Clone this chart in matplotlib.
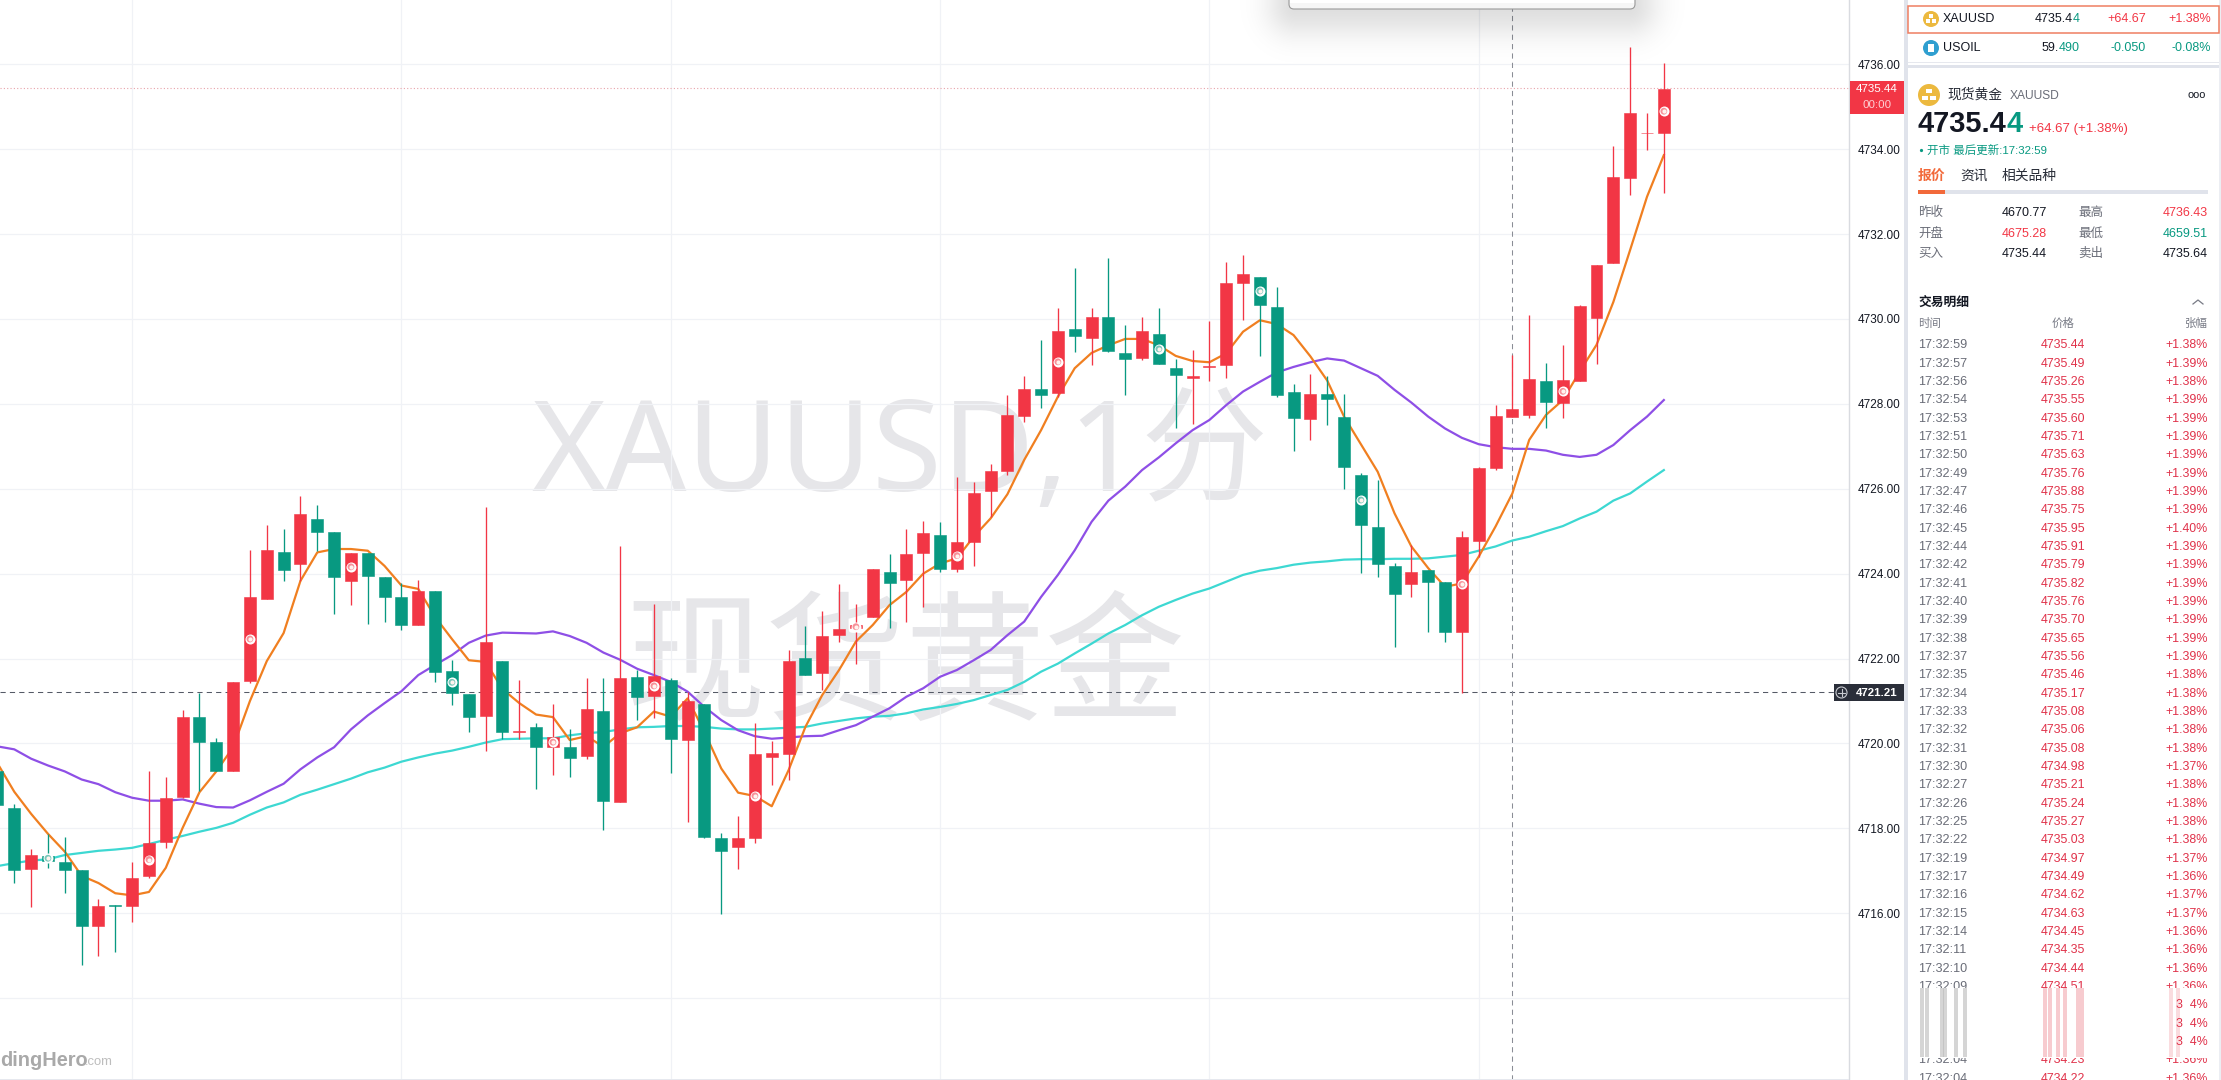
import numpy as np
import matplotlib
matplotlib.use('Agg')
import matplotlib.pyplot as plt
from matplotlib.patches import Rectangle, Circle, FancyBboxPatch

plt.rcParams['font.family'] = ['Liberation Sans', 'Noto Sans CJK SC', 'DejaVu Sans']

# candles, one minute each
opens = [4719.34, 4718.49, 4717.04, 4717.35, 4717.21, 4717.02, 4715.70, 4716.19, 4716.17, 4716.88,
         4717.68, 4718.74, 4720.63, 4720.03, 4719.34, 4721.47, 4723.41, 4724.52, 4724.23, 4725.28,
         4724.97, 4723.83, 4724.49, 4723.93, 4723.45, 4722.79, 4723.58, 4721.70, 4721.16, 4720.64,
         4721.94, 4720.27, 4720.38, 4719.92, 4719.91, 4719.70, 4720.76, 4718.63, 4721.56, 4721.12,
         4721.49, 4720.08, 4720.93, 4717.77, 4717.57, 4717.78, 4719.69, 4719.75, 4722.01, 4721.67,
         4722.56, 4722.71, 4722.97, 4724.04, 4723.85, 4724.49, 4724.91, 4724.11, 4724.74, 4725.95,
         4726.42, 4727.72, 4728.36, 4728.26, 4729.76, 4729.56, 4730.05, 4729.20, 4729.09, 4729.64,
         4728.84, 4728.61, 4728.87, 4728.91, 4730.85, 4730.99, 4730.28, 4728.27, 4727.64, 4728.23,
         4727.69, 4726.32, 4725.09, 4724.18, 4723.76, 4724.09, 4723.80, 4722.63, 4724.78, 4726.49,
         4727.70, 4727.74, 4728.54, 4728.03, 4728.55, 4730.03, 4731.33, 4733.33, 4734.37, 4734.37]
highs = [4719.60, 4718.58, 4717.51, 4717.87, 4717.80, 4717.02, 4716.33, 4716.19, 4717.21, 4719.36,
         4719.20, 4720.78, 4721.18, 4720.12, 4721.45, 4724.56, 4725.14, 4725.04, 4725.84, 4725.61,
         4724.97, 4724.49, 4724.49, 4723.93, 4723.79, 4723.85, 4723.58, 4721.97, 4721.16, 4725.57,
         4721.94, 4721.49, 4720.47, 4720.93, 4720.33, 4721.54, 4721.54, 4724.64, 4721.72, 4723.28,
         4721.55, 4721.22, 4720.93, 4717.88, 4718.29, 4720.47, 4720.06, 4722.20, 4722.77, 4723.13,
         4723.75, 4723.28, 4724.11, 4724.46, 4725.04, 4725.24, 4725.22, 4726.27, 4726.15, 4726.58,
         4728.21, 4728.65, 4729.50, 4730.25, 4731.21, 4730.27, 4731.44, 4729.86, 4730.05, 4730.25,
         4729.05, 4729.27, 4729.95, 4731.35, 4731.51, 4730.99, 4730.76, 4728.47, 4728.70, 4728.65,
         4728.23, 4726.36, 4726.21, 4724.26, 4724.67, 4724.09, 4723.80, 4725.00, 4726.51, 4727.97,
         4729.15, 4730.09, 4728.97, 4729.39, 4730.34, 4731.27, 4734.08, 4736.41, 4734.85, 4736.04]
lows = [4718.55, 4716.71, 4716.14, 4717.07, 4716.47, 4714.77, 4714.98, 4715.08, 4715.79, 4716.83,
        4717.54, 4718.72, 4718.88, 4719.34, 4719.34, 4721.42, 4723.41, 4723.82, 4723.82, 4724.54,
        4723.05, 4723.25, 4722.82, 4722.86, 4722.67, 4722.79, 4721.44, 4720.90, 4720.26, 4719.81,
        4720.11, 4720.10, 4718.93, 4719.26, 4719.20, 4719.64, 4717.95, 4718.63, 4720.55, 4720.59,
        4719.31, 4718.15, 4717.78, 4715.98, 4717.04, 4717.66, 4719.02, 4719.14, 4721.61, 4721.26,
        4722.39, 4721.87, 4722.97, 4722.71, 4722.87, 4723.22, 4724.04, 4724.04, 4724.18, 4725.34,
        4726.32, 4727.58, 4727.91, 4728.17, 4729.23, 4728.91, 4729.22, 4728.21, 4729.03, 4728.95,
        4727.44, 4727.52, 4728.53, 4728.62, 4729.97, 4729.13, 4728.15, 4726.90, 4727.15, 4727.51,
        4725.99, 4724.01, 4723.91, 4722.28, 4723.44, 4722.63, 4722.40, 4721.18, 4724.40, 4726.44,
        4727.70, 4727.67, 4727.42, 4727.66, 4728.55, 4728.94, 4731.31, 4732.91, 4733.98, 4732.97]
closes = [4718.55, 4717.02, 4717.37, 4717.24, 4717.02, 4715.70, 4716.17, 4716.17, 4716.83, 4717.65,
          4718.72, 4720.63, 4720.04, 4719.34, 4721.45, 4723.45, 4724.55, 4724.09, 4725.40, 4724.98,
          4723.93, 4724.49, 4723.95, 4723.46, 4722.79, 4723.58, 4721.68, 4721.18, 4720.62, 4722.40,
          4720.28, 4720.29, 4719.92, 4720.14, 4719.65, 4720.80, 4718.65, 4721.54, 4721.10, 4721.59,
          4720.11, 4721.00, 4717.79, 4717.46, 4717.78, 4719.75, 4719.78, 4721.94, 4721.61, 4722.53,
          4722.69, 4722.79, 4724.11, 4723.78, 4724.47, 4724.95, 4724.11, 4724.74, 4725.90, 4726.42,
          4727.74, 4728.35, 4728.22, 4729.72, 4729.60, 4730.05, 4729.25, 4729.05, 4729.71, 4728.95,
          4728.69, 4728.65, 4728.90, 4730.85, 4731.06, 4730.33, 4728.21, 4727.66, 4728.23, 4728.11,
          4726.52, 4725.15, 4724.23, 4723.52, 4724.04, 4723.80, 4722.63, 4724.86, 4726.49, 4727.71,
          4727.88, 4728.59, 4728.04, 4728.56, 4730.30, 4731.27, 4733.34, 4734.85, 4734.38, 4735.42]

ma_fast = [4719.53, 4718.86, 4718.34, 4717.87, 4717.45, 4716.88, 4716.71, 4716.47, 4716.42, 4716.50,
           4717.07, 4718.01, 4718.85, 4719.34, 4719.91, 4721.00, 4721.94, 4722.60, 4723.83, 4724.50,
           4724.58, 4724.58, 4724.54, 4724.18, 4723.72, 4723.64, 4722.98, 4722.46, 4721.96, 4721.92,
           4721.28, 4720.95, 4720.68, 4720.62, 4720.08, 4720.17, 4719.92, 4720.24, 4720.38, 4720.75,
           4720.63, 4721.06, 4720.27, 4719.41, 4718.84, 4718.76, 4718.52, 4719.37, 4720.39, 4721.14,
           4721.73, 4722.40, 4722.79, 4723.26, 4723.57, 4724.00, 4724.24, 4724.36, 4724.87, 4725.30,
           4725.87, 4726.68, 4727.38, 4728.17, 4728.84, 4729.20, 4729.38, 4729.53, 4729.53, 4729.38,
           4729.13, 4729.01, 4728.98, 4729.19, 4729.70, 4729.97, 4729.88, 4729.62, 4729.12, 4728.55,
           4727.70, 4727.05, 4726.40, 4725.42, 4724.64, 4724.13, 4723.69, 4723.77, 4724.40, 4725.11,
           4725.89, 4727.15, 4727.74, 4728.09, 4728.76, 4729.39, 4730.40, 4731.63, 4732.88, 4733.86]
ma_mid = [4719.93, 4719.86, 4719.64, 4719.48, 4719.34, 4719.15, 4719.04, 4718.85, 4718.72, 4718.65,
          4718.65, 4718.68, 4718.58, 4718.50, 4718.49, 4718.66, 4718.86, 4719.05, 4719.39, 4719.67,
          4719.91, 4720.33, 4720.66, 4720.95, 4721.23, 4721.61, 4721.85, 4722.08, 4722.37, 4722.54,
          4722.61, 4722.60, 4722.59, 4722.64, 4722.53, 4722.37, 4722.14, 4721.97, 4721.76, 4721.61,
          4721.45, 4721.22, 4720.86, 4720.55, 4720.31, 4720.17, 4720.11, 4720.14, 4720.17, 4720.18,
          4720.31, 4720.43, 4720.63, 4720.83, 4721.10, 4721.30, 4721.57, 4721.73, 4721.96, 4722.20,
          4722.55, 4722.87, 4723.45, 4723.97, 4724.55, 4725.22, 4725.72, 4726.05, 4726.44, 4726.74,
          4727.07, 4727.38, 4727.62, 4727.97, 4728.29, 4728.52, 4728.74, 4728.87, 4728.98, 4729.07,
          4729.02, 4728.84, 4728.66, 4728.33, 4728.03, 4727.70, 4727.42, 4727.20, 4727.05, 4726.98,
          4726.94, 4726.94, 4726.90, 4726.80, 4726.75, 4726.80, 4727.03, 4727.38, 4727.70, 4728.09]
ma_slow = [4717.11, 4717.18, 4717.24, 4717.27, 4717.37, 4717.42, 4717.47, 4717.50, 4717.54, 4717.63,
           4717.73, 4717.82, 4717.92, 4718.01, 4718.13, 4718.32, 4718.49, 4718.61, 4718.79, 4718.91,
           4719.04, 4719.17, 4719.32, 4719.43, 4719.57, 4719.67, 4719.76, 4719.83, 4719.92, 4720.02,
           4720.10, 4720.11, 4720.12, 4720.12, 4720.19, 4720.24, 4720.27, 4720.33, 4720.38, 4720.39,
           4720.41, 4720.41, 4720.39, 4720.35, 4720.33, 4720.33, 4720.35, 4720.37, 4720.39, 4720.47,
           4720.53, 4720.59, 4720.63, 4720.65, 4720.71, 4720.80, 4720.86, 4720.93, 4721.02, 4721.14,
           4721.26, 4721.45, 4721.69, 4721.88, 4722.12, 4722.35, 4722.59, 4722.79, 4723.02, 4723.22,
           4723.38, 4723.53, 4723.65, 4723.81, 4723.97, 4724.07, 4724.13, 4724.21, 4724.26, 4724.29,
           4724.33, 4724.34, 4724.34, 4724.35, 4724.35, 4724.36, 4724.40, 4724.44, 4724.54, 4724.64,
           4724.78, 4724.87, 4725.00, 4725.12, 4725.30, 4725.46, 4725.72, 4725.89, 4726.17, 4726.44]

price_ticks = [4714, 4716, 4718, 4720, 4722, 4724, 4726, 4728, 4730, 4732, 4734, 4736]
time_ticks = [8, 24, 40, 56, 72, 88]
last_price = 4735.44
cross_price = 4721.21
cross_bar = 90

# trade list on the right
trade_times = ['17:32:59', '17:32:57', '17:32:56', '17:32:54', '17:32:53', '17:32:51', '17:32:50', '17:32:49',
               '17:32:47', '17:32:46', '17:32:45', '17:32:44', '17:32:42', '17:32:41', '17:32:40', '17:32:39',
               '17:32:38', '17:32:37', '17:32:35', '17:32:34', '17:32:33', '17:32:32', '17:32:31', '17:32:30',
               '17:32:27', '17:32:26', '17:32:25', '17:32:22', '17:32:19', '17:32:17', '17:32:16', '17:32:15',
               '17:32:14', '17:32:11', '17:32:10', '17:32:09', '', '', '', '17:32:04', '17:32:04']
trade_prices = ['4735.44', '4735.49', '4735.26', '4735.55', '4735.60', '4735.71', '4735.63', '4735.76',
                '4735.88', '4735.75', '4735.95', '4735.91', '4735.79', '4735.82', '4735.76', '4735.70',
                '4735.65', '4735.56', '4735.46', '4735.17', '4735.08', '4735.06', '4735.08', '4734.98',
                '4735.21', '4735.24', '4735.27', '4735.03', '4734.97', '4734.49', '4734.62', '4734.63',
                '4734.45', '4734.35', '4734.44', '4734.51', '', '', '', '4734.23', '4734.22']
trade_changes = ['+1.38%', '+1.39%', '+1.38%', '+1.39%', '+1.39%', '+1.39%', '+1.39%', '+1.39%',
                 '+1.39%', '+1.39%', '+1.40%', '+1.39%', '+1.39%', '+1.39%', '+1.39%', '+1.39%',
                 '+1.39%', '+1.39%', '+1.38%', '+1.38%', '+1.38%', '+1.38%', '+1.38%', '+1.37%',
                 '+1.38%', '+1.38%', '+1.38%', '+1.38%', '+1.37%', '+1.36%', '+1.37%', '+1.37%',
                 '+1.36%', '+1.36%', '+1.36%', '+1.36%', '3  4%', '3  4%', '3  4%', '+1.36%', '+1.36%']

RED = '#f23645'
GREEN = '#089981'
GRID = '#f0f2f6'
W, H = 2221, 1080


def px(size):
    return size * 0.72


fig = plt.figure(figsize=(W / 100, H / 100), dpi=100, facecolor='white')

# watermark sits behind the candles
back = fig.add_axes([0, 0, 1, 1], zorder=0)
back.set_xlim(0, W)
back.set_ylim(H, 0)
back.axis('off')
back.text(531, 491, 'XAUUSD,1分', fontsize=px(127), color='#e6e6e9', ha='left', va='baseline',
          family=['Noto Sans', 'Noto Sans CJK SC'])
back.text(625, 709, '现货黄金', fontsize=px(140), color='#e6e6e9', ha='left', va='baseline',
          family='Noto Sans CJK SC')

# price chart, the limits put one bar at 16.83 pixels and one price unit at 42.45 pixels
ax = fig.add_axes([0, 0, 1849 / W, 1], zorder=1)
ax.patch.set_alpha(0)
ax.set_xlim(0.15, 110.0)
ax.set_ylim(4712.07, 4737.515)

idx = np.arange(len(opens))
o, h, l, c = map(np.array, (opens, highs, lows, closes))
colors = [RED if b >= a else GREEN for a, b in zip(o, c)]

ax.set_yticks(price_ticks)
ax.set_yticklabels(['' if p == 4714 else '%.2f' % p for p in price_ticks])
ax.set_xticks(time_ticks)
ax.set_xticklabels([])
ax.yaxis.tick_right()
ax.tick_params(axis='y', length=0, pad=6, labelsize=px(11.8), labelcolor='#131722')
ax.tick_params(axis='x', length=0)
ax.grid(True, color=GRID, lw=0.9)
ax.set_axisbelow(True)
for name in ('top', 'left', 'bottom'):
    ax.spines[name].set_visible(False)
ax.spines['right'].set_color('#d9dbe0')
ax.spines['right'].set_linewidth(1.0)

ax.axhline(last_price, color='#e9a3aa', lw=0.8, ls=(0, (1, 2)), zorder=1)
ax.axhline(cross_price, color='#555a66', lw=0.75, ls=(0, (5, 4)), zorder=1.5)
ax.axvline(cross_bar, color='#8a8d96', lw=0.75, ls=(0, (5, 4)), zorder=1.5)

ax.plot(idx, ma_slow, color='#3dd8d2', lw=1.6, zorder=2)
ax.plot(idx, ma_mid, color='#8e4fe6', lw=1.6, zorder=2)
ax.plot(idx, ma_fast, color='#f07f20', lw=1.6, zorder=2)

ax.vlines(idx, l, h, colors=colors, lw=0.95, zorder=3)
ax.bar(idx, np.abs(c - o), bottom=np.minimum(o, c), width=0.71, color=colors, edgecolor=colors, lw=0.4, zorder=4)

# order markers, every sixth bar
marks = idx[3::6]
mids = (o[marks] + c[marks]) / 2
ax.scatter(marks, mids, s=52, color='white', lw=0, zorder=5)
ax.scatter(marks, mids, s=24, color=[colors[m] for m in marks], lw=0, alpha=0.55, zorder=6)
ax.scatter(marks, mids, s=9, color='#fff3ee', lw=0, zorder=7)

# everything else is screen furniture, in pixels
fg = fig.add_axes([0, 0, 1, 1], zorder=2)
fg.set_xlim(0, W)
fg.set_ylim(H, 0)
fg.axis('off')


def put(x, y, s, color='#131722', size=12.5, ha='left', weight='normal'):
    return fg.text(x, y, s, color=color, fontsize=px(size), ha=ha, va='center', fontweight=weight)


def box(x0, y0, x1, y1, color, **kw):
    fg.add_patch(Rectangle((x0, y0), x1 - x0, y1 - y0, facecolor=color, edgecolor='none', **kw))


# dropdown shadow and its bottom edge at the top of the chart
xx, yy = np.meshgrid(np.arange(1230, 1700), np.arange(0, 90))
dx = np.maximum(np.maximum(1296 - xx, xx - 1628), 0)
dy = np.maximum(yy - 6, 0)
dist = np.hypot(dx, dy)
shadow = np.zeros(xx.shape + (4,))
shadow[..., 3] = 0.13 * np.exp(-(dist / 30.0) ** 2)
fg.imshow(shadow, extent=(1230, 1700, 90, 0), aspect='auto', zorder=1, interpolation='bilinear')
fg.set_xlim(0, W)
fg.set_ylim(H, 0)
fg.add_patch(FancyBboxPatch((1293, -20), 338, 25, boxstyle='round,pad=4,rounding_size=5', facecolor='#f6f6f6',
                            edgecolor='#9a9a9a', lw=0.8, zorder=2))
box(1290, 0, 1634, 2.5, 'white', zorder=3)

# bottom edge of the chart pane
box(0, 1079, 1849, 1080, '#e6e8ee', zorder=1)

# price tag and crosshair tag
box(1850, 81, 1904, 114, RED, zorder=3)
put(1877, 89, '4735.44', 'white', 11.5, 'center').set_zorder(4)
put(1877, 105, '00:00', '#ffd0d4', 11.5, 'center').set_zorder(4)
box(1834, 684, 1904, 701, '#2a2e39', zorder=3)
put(1877, 692.5, '4721.21', 'white', 11.5, 'center', 'bold').set_zorder(4)
fg.add_patch(Circle((1841.5, 692.5), 5.5, facecolor='none', edgecolor='#c8cad0', lw=0.8, zorder=4))
fg.plot([1838, 1845], [692.5, 692.5], color='#c8cad0', lw=0.8, zorder=4)
fg.plot([1841.5, 1841.5], [689, 696], color='#c8cad0', lw=0.8, zorder=4)

# right panel
box(1904, 0, W, H, 'white', zorder=1)
box(1904, 0, 1908, H, '#e0e3eb', zorder=1.5)
box(2219, 0, W, H, '#eceef3', zorder=1.5)
box(1908, 62, 2219, 63, '#e6e8ee', zorder=1.5)
box(1908, 65, 2219, 68, '#e0e3eb', zorder=1.5)
fg.add_patch(Rectangle((1907.5, 5.5), 311, 27, facecolor='none', edgecolor='#ef7f62', lw=1.1, zorder=2))

fg.add_patch(Circle((1931, 19), 8, facecolor='#ecb93f', edgecolor='none', zorder=2))
fg.add_patch(Circle((1931, 48), 8, facecolor='#2f9fd0', edgecolor='none', zorder=2))
fg.add_patch(Rectangle((1928, 44), 6, 8, facecolor='white', edgecolor='none', zorder=3))
fg.add_patch(Circle((1929, 95), 11, facecolor='#ecb93f', edgecolor='none', zorder=2))
for cx, cy, s in [(1931, 16, 1.6), (1928, 21, 1.6), (1934, 21, 1.6)]:
    fg.add_patch(Rectangle((cx - s, cy - s), 2 * s, 2 * s, facecolor='white', edgecolor='none', zorder=3))
for cx, cy in [(1929, 91), (1925, 98), (1933, 98)]:
    fg.add_patch(Rectangle((cx - 3, cy - 2), 6, 4, facecolor='white', edgecolor='none', zorder=3))

texts = [
    put(1943, 19, 'XAUUSD', '#131722', 12.5),
    put(2072.8, 19, '4735.4', '#131722', 12.5, 'right'),
    put(2080, 19, '4', GREEN, 12.5, 'right'),
    put(2146, 19, '+64.67', RED, 12.5, 'right'),
    put(2211, 19, '+1.38%', RED, 12.5, 'right'),
    put(1943, 48, 'USOIL', '#131722', 12.5),
    put(2058.6, 48, '59.', '#131722', 12.5, 'right'),
    put(2080, 48, '490', GREEN, 12.5, 'right'),
    put(2146, 48, '-0.050', GREEN, 12.5, 'right'),
    put(2211, 48, '-0.08%', GREEN, 12.5, 'right'),
    put(1947, 95, '现货黄金', '#2a2e39', 13.8),
    put(2010, 96, 'XAUUSD', '#6a6d78', 12),
    put(2187, 95, 'ooo', '#131722', 11),
    put(1918, 124, '4735.4', '#131722', 29, 'left', 'bold'),
    put(2006.7, 124, '4', GREEN, 29, 'left', 'bold'),
    put(2029, 129, '+64.67 (+1.38%)', RED, 13.2),
    put(1927, 150, '开市 最后更新:17:32:59', GREEN, 11.5),
    put(1918, 176, '报价', '#f2693a', 13.8, 'left', 'bold'),
    put(1960, 176, '资讯', '#2a2e39', 13.8),
    put(2002, 176, '相关品种', '#2a2e39', 13.8),
    put(1918, 213, '昨收', '#6a6d78', 12.5),
    put(1918, 234, '开盘', '#6a6d78', 12.5),
    put(1918, 254, '买入', '#6a6d78', 12.5),
    put(2002, 213, '4670.77', '#131722', 12.5),
    put(2002, 234, '4675.28', RED, 12.5),
    put(2002, 254, '4735.44', '#131722', 12.5),
    put(2078, 213, '最高', '#6a6d78', 12.5),
    put(2078, 234, '最低', '#6a6d78', 12.5),
    put(2078, 254, '卖出', '#6a6d78', 12.5),
    put(2208, 213, '4736.43', RED, 12.5, 'right'),
    put(2208, 234, '4659.51', GREEN, 12.5, 'right'),
    put(2208, 254, '4735.64', '#131722', 12.5, 'right'),
    put(1918, 303, '交易明细', '#131722', 12.8, 'left', 'bold'),
    put(1918, 323, '时间', '#787b86', 11.5),
    put(2063, 323, '价格', '#787b86', 11.5, 'center'),
    put(2208, 323, '张幅', '#787b86', 11.5, 'right'),
]
fg.add_patch(Circle((1921.5, 150.5), 1.6, facecolor=GREEN, edgecolor='none', zorder=3))
box(1918, 190, 2208, 193.5, '#e0e3eb', zorder=2)
box(1918, 190, 1945, 193.5, '#f2693a', zorder=2.5)
fg.plot([2193, 2198, 2203], [304, 300, 304], color='#787b86', lw=0.9, zorder=3)

for n, (tm, pr, ch) in enumerate(zip(trade_times, trade_prices, trade_changes)):
    row_y = 345.5 + n * 18.33
    texts.append(put(1918, row_y, tm, '#6a6d78', 12.6))
    texts.append(put(2063, row_y, pr, '#e0324a', 12.4, 'center'))
    texts.append(put(2208, row_y, ch, '#e0324a', 12.4, 'right'))
    if not tm:
        texts[-1].set_zorder(6)
for t in texts:
    if t.get_zorder() < 6:
        t.set_zorder(3)

# smeared rows near the bottom of the list
box(1908, 988, 2219, 1058, 'white', zorder=4)
for sx in [1922, 1927, 1942, 1945, 1956, 1965]:
    box(sx - 1.6, 988, sx + 1.6, 1057, '#b9b9b9', alpha=0.6, zorder=5)
for sx in [2045, 2050, 2058, 2065, 2078, 2082]:
    box(sx - 1.6, 988, sx + 1.6, 1057, '#f3a9b0', alpha=0.6, zorder=5)
for sx in [2171, 2178]:
    box(sx - 1.6, 988, sx + 1.6, 1057, '#f7c6ca', alpha=0.6, zorder=5)

# site mark bottom left
put(0, 1060, 'dingHero', '#a9a9a9', 20, 'left', 'bold')
put(85, 1062, '.com', '#bdbdbd', 13)

fig.savefig('out.png', dpi=100)
